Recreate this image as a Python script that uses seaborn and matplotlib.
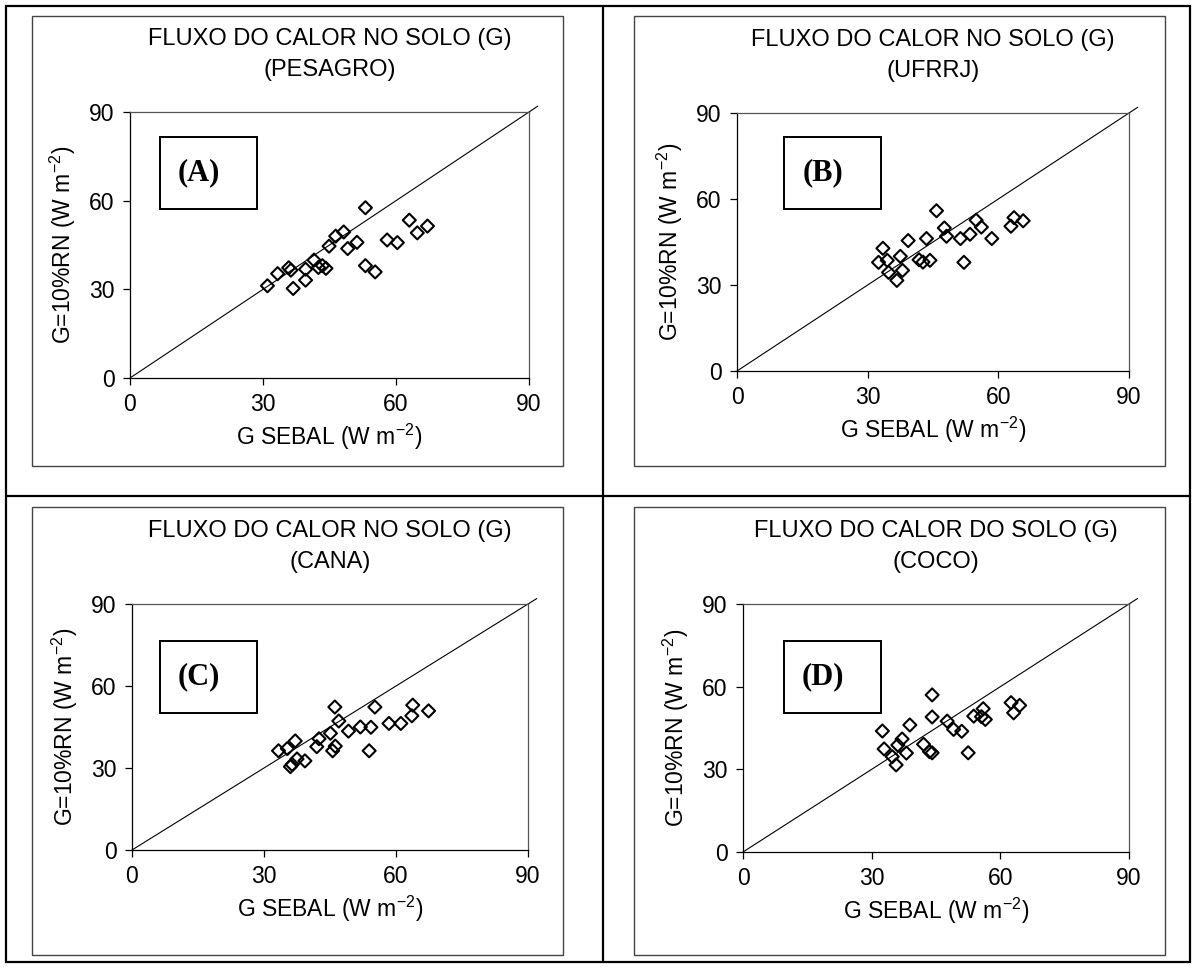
import numpy as np
import pandas as pd
import seaborn as sns
import matplotlib.pyplot as plt
from matplotlib.patches import Rectangle

# values (x = G SEBAL, y = G = 10% Rn)
pesagro_x = [31.0, 33.3, 35.8, 36.3, 36.8, 39.6, 39.6, 41.5, 42.5, 43.4, 44.2, 44.9,
             46.4, 48.2, 49.1, 51.2, 53.1, 53.1, 55.3, 58.0, 60.3, 63.0, 64.8, 67.1]
pesagro_y = [31.2, 35.3, 37.3, 36.5, 30.3, 36.8, 33.1, 39.9, 37.4, 38.0, 37.1, 44.6,
             48.0, 49.4, 43.8, 45.9, 57.6, 38.0, 35.9, 46.7, 45.8, 53.4, 49.1, 51.4]

ufrrj_x = [32.5, 33.5, 34.5, 34.8, 36.7, 37.5, 38.0, 39.3, 41.8, 42.7, 43.5, 44.3,
           45.8, 47.6, 48.1, 51.3, 52.1, 53.5, 54.9, 56.1, 58.5, 62.9, 63.6, 65.7]
ufrrj_y = [37.9, 42.8, 38.6, 34.4, 31.6, 40.0, 35.1, 45.5, 38.8, 38.0, 46.2, 38.6,
           55.9, 49.9, 47.0, 46.2, 37.9, 47.7, 52.6, 50.2, 46.2, 50.5, 53.5, 52.4]

cana_x = [33.3, 35.3, 37.1, 36.0, 36.4, 37.5, 39.3, 42.0, 42.5, 45.1, 45.6, 46.2,
          46.1, 47.0, 49.2, 51.9, 53.9, 54.3, 55.2, 58.4, 61.1, 63.6, 63.8, 67.4]
cana_y = [36.3, 37.1, 39.9, 30.5, 31.3, 33.3, 32.6, 37.8, 40.7, 42.7, 36.3, 38.0,
          52.3, 47.2, 43.5, 45.0, 36.3, 44.9, 52.3, 46.3, 46.3, 49.1, 53.0, 50.9]

coco_x = [32.5, 32.9, 34.8, 35.7, 36.1, 37.1, 38.1, 38.9, 42.1, 43.5, 44.1, 44.1,
          44.1, 47.6, 49.1, 51.0, 52.5, 53.8, 55.6, 56.0, 56.5, 62.5, 63.1, 64.5]
coco_y = [43.9, 37.4, 34.6, 31.6, 38.8, 41.0, 35.9, 46.1, 39.1, 36.4, 36.0, 57.0,
          49.0, 47.5, 44.5, 43.8, 36.0, 49.3, 49.1, 52.0, 48.1, 54.2, 50.5, 53.2]

titles = ['FLUXO DO CALOR NO SOLO (G)\n(PESAGRO)',
          'FLUXO DO CALOR NO SOLO (G)\n(UFRRJ)',
          'FLUXO DO CALOR NO SOLO (G)\n(CANA)',
          'FLUXO DO CALOR DO SOLO (G)\n(COCO)']
letters = ['(A)', '(B)', '(C)', '(D)']
ticks = [0, 30, 60, 90]

sns.set_style('white')
plt.rcParams['font.family'] = ['Liberation Sans', 'DejaVu Sans']
plt.rcParams['mathtext.fontset'] = 'custom'
plt.rcParams['mathtext.rm'] = 'Liberation Sans'
plt.rcParams['mathtext.it'] = 'Liberation Sans'
for key in ['text.color', 'axes.labelcolor', 'xtick.color', 'ytick.color']:
    plt.rcParams[key] = 'black'

W, H = 1197, 968
fig = plt.figure(figsize=(W / 100, H / 100), dpi=100)


def fr(x0, y0, x1, y1):
    # pixel box (top-left origin) -> figure fraction [left, bottom, width, height]
    return [x0 / W, 1 - y1 / H, (x1 - x0) / W, (y1 - y0) / H]


# plot areas in pixels
axes_px = [(130, 112, 529, 378), (737, 113, 1129, 371),
           (132, 604, 528, 850), (743, 604, 1129, 852)]
# label boxes in pixels
box_px = [(160, 137, 257, 209), (784, 137, 881, 209),
          (160, 641, 257, 713), (784, 641, 881, 713)]
# grey chart frames
frame_px = [(32, 16, 563, 466), (634, 16, 1165, 466),
            (32, 507, 563, 955), (634, 507, 1165, 955)]

data = [(pesagro_x, pesagro_y), (ufrrj_x, ufrrj_y), (cana_x, cana_y), (coco_x, coco_y)]

for i, (xs, ys) in enumerate(data):
    ax = fig.add_axes(fr(*axes_px[i]))
    df = pd.DataFrame({'x': xs, 'y': ys})
    ax.plot([0, 92], [0, 92], color='black', lw=0.8, clip_on=False, zorder=1)
    sns.scatterplot(data=df, x='x', y='y', ax=ax, marker='D', s=44,
                    facecolor='none', edgecolor='black', linewidth=1.5, zorder=3)
    ax.set_xlim(0, 90)
    ax.set_ylim(0, 90)
    ax.set_xticks(ticks)
    ax.set_yticks(ticks)
    ax.tick_params(axis='both', which='major', direction='out', length=5,
                   width=0.9, color='black', labelsize=16.5, pad=6, bottom=True, left=True)
    for side in ['left', 'bottom']:
        ax.spines[side].set_color('black')
        ax.spines[side].set_linewidth(0.9)
    for side in ['top', 'right']:
        ax.spines[side].set_color('#555555')
        ax.spines[side].set_linewidth(0.9)
    ax.set_xlabel('G SEBAL (W m$^{-2}$)', fontsize=16.5, labelpad=4)
    ax.set_ylabel('G=10%RN (W m$^{-2}$)', fontsize=16.5, labelpad=8)
    ax.set_title(titles[i], fontsize=17, linespacing=1.55, pad=26)

    bx0, by0, bx1, by1 = box_px[i]
    fig.add_artist(Rectangle((bx0 / W, 1 - by1 / H), (bx1 - bx0) / W, (by1 - by0) / H,
                             transform=fig.transFigure, fill=True, facecolor='white',
                             edgecolor='black', lw=1.4, zorder=5))
    fig.text((bx0 + bx1) / 2 / W - 0.008, 1 - (by0 + by1) / 2 / H, letters[i],
             family='Liberation Serif', weight='bold', fontsize=22,
             ha='center', va='center', zorder=6)

    fx0, fy0, fx1, fy1 = frame_px[i]
    fig.add_artist(Rectangle((fx0 / W, 1 - fy1 / H), (fx1 - fx0) / W, (fy1 - fy0) / H,
                             transform=fig.transFigure, fill=False,
                             edgecolor='#444444', lw=1.0))

# table grid lines
fig.add_artist(Rectangle((6 / W, 1 - 962 / H), 1184 / W, 956 / H,
                         transform=fig.transFigure, fill=False, edgecolor='black', lw=1.6))
fig.add_artist(plt.Line2D([603 / W, 603 / W], [1 - 962 / H, 1 - 6 / H],
                          transform=fig.transFigure, color='black', lw=1.6))
fig.add_artist(plt.Line2D([6 / W, 1190 / W], [1 - 496 / H, 1 - 496 / H],
                          transform=fig.transFigure, color='black', lw=1.6))

fig.savefig('out.png', dpi=100, facecolor='white')
